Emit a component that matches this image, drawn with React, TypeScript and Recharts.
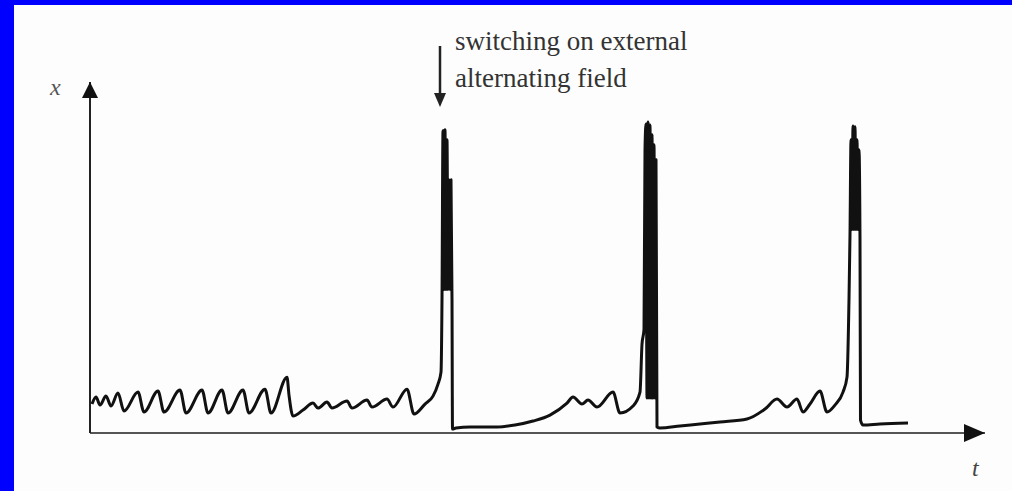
import { LineChart, Line, XAxis, YAxis, ReferenceDot, ReferenceLine } from 'recharts';

// time (arbitrary units) and amplitude x
const wavyT = [0.2, 0.6, 1.0, 1.6, 2.1, 2.8, 3.4, 4.8, 5.4, 6.8, 7.4, 9.0, 9.6, 11.2, 11.8, 13.2, 13.8, 15.3, 15.9, 17.5, 18.1, 19.7, 19.9, 20.3, 21.3, 22.3, 22.8, 23.7, 24.2, 25.7, 26.2, 27.7, 28.2, 29.7, 30.3, 31.7, 32.4, 33.5, 34.3, 34.8, 35.1];
const wavyX = [2.9, 3.6, 2.8, 3.7, 2.7, 4.0, 2.2, 4.1, 2.1, 4.2, 2.1, 4.3, 2.0, 4.3, 2.0, 4.3, 2.0, 4.3, 2.0, 4.4, 2.0, 5.6, 3.8, 1.7, 2.3, 3.0, 2.5, 3.1, 2.5, 3.2, 2.5, 3.3, 2.6, 3.4, 2.6, 4.4, 1.9, 2.9, 3.7, 4.9, 6.1];

const burst1T = [35.2, 35.3, 35.4, 35.5, 35.6, 35.7, 35.8, 35.9, 36.0, 36.1, 36.2, 36.25, 36.6];
const burst1X = [13.4, 30.3, 14.4, 30.4, 14.4, 29.4, 14.4, 25.4, 14.4, 25.4, 13.4, 0.4, 0.5];

const ramp2T = [38.0, 40.7, 42.5, 44.3, 46.0, 47.7, 48.3, 49.2, 49.8, 50.7, 52.3, 53.0, 54.3, 55.0, 55.2, 55.4];
const ramp2X = [0.6, 0.6, 0.8, 1.2, 1.8, 3.0, 3.6, 2.9, 3.3, 2.6, 4.1, 2.0, 2.7, 4.1, 8.9, 10.4];

const burst2T = [55.5, 55.6, 55.7, 55.8, 55.9, 56.0, 56.1, 56.2, 56.3, 56.4, 56.5, 56.6, 56.7, 57.0, 59.0, 61.0];
const burst2X = [28.4, 31.0, 3.5, 31.2, 3.5, 30.9, 3.5, 29.9, 3.5, 28.9, 3.5, 27.4, 0.6, 0.5, 0.7, 0.9];

const ramp3T = [63.0, 65.7, 67.5, 68.7, 69.7, 70.7, 71.3, 72.0, 73.0, 73.7, 74.5, 75.3, 75.7, 75.9, 76.0];
const ramp3X = [1.1, 1.4, 2.4, 3.4, 2.6, 3.4, 2.1, 2.9, 4.2, 2.1, 2.8, 4.1, 5.6, 13.4, 19.9];

const burst3T = [76.1, 76.2, 76.3, 76.4, 76.5, 76.6, 76.7, 76.8, 76.9, 77.0, 77.05, 77.3, 79.0, 81.8];
const burst3X = [29.4, 20.4, 30.8, 20.4, 30.7, 20.4, 29.4, 20.4, 28.4, 19.4, 1.3, 0.8, 0.9, 1.0];

const T_MAX = 89.5;
const X_MAX = 35.2;

const pieces: Array<[number[], number[]]> = [
  [wavyT, wavyX],
  [burst1T, burst1X],
  [ramp2T, ramp2X],
  [burst2T, burst2X],
  [ramp3T, ramp3X],
  [burst3T, burst3X],
];

const data = pieces.flatMap(([ts, xs]) => ts.map((t, i) => ({ t, x: xs[i] })));

const serif = '"Liberation Serif", "DejaVu Serif", serif';

export default function App() {
  return (
    <div style={{ position: 'fixed', left: 0, top: 0, width: 1012, height: 491, background: '#0000ff', overflow: 'hidden' }}>
      <div style={{ position: 'absolute', left: 14, top: 5, right: 0, bottom: 0, background: '#fdfdfd' }} />
      <div style={{ position: 'absolute', left: 0, top: 0 }}>
        <LineChart width={1012} height={491} data={data} margin={{ top: 82, right: 27, bottom: 58, left: 90 }}>
          <XAxis dataKey="t" type="number" domain={[0, T_MAX]} hide />
          <YAxis type="number" domain={[0, X_MAX]} hide />
          <ReferenceLine y={0} stroke="#555" strokeWidth={2} ifOverflow="visible" />
          <ReferenceLine x={0} stroke="#222" strokeWidth={2} ifOverflow="visible" />
          <ReferenceDot
            x={T_MAX}
            y={0}
            r={0}
            ifOverflow="visible"
            shape={(p: any) => <path d={`M${p.cx},${p.cy} l-21,-9 l0,18 z`} fill="#111" />}
          />
          <ReferenceDot
            x={0}
            y={X_MAX}
            r={0}
            ifOverflow="visible"
            shape={(p: any) => <path d={`M${p.cx},${p.cy} l-8,16 l16,0 z`} fill="#111" />}
          />
          <Line
            dataKey="x"
            type="monotone"
            stroke="#111"
            strokeWidth={3}
            strokeLinejoin="round"
            dot={false}
            isAnimationActive={false}
          />
        </LineChart>
      </div>
      <div style={{ position: 'absolute', left: 50, top: 74, fontFamily: serif, fontStyle: 'italic', fontSize: 24, color: '#555' }}>x</div>
      <div style={{ position: 'absolute', left: 972, top: 455, fontFamily: serif, fontStyle: 'italic', fontSize: 24, color: '#444' }}>t</div>
      <svg style={{ position: 'absolute', left: 0, top: 0 }} width={1012} height={491}>
        <line x1={440} y1={46} x2={440} y2={96} stroke="#222" strokeWidth={2.5} />
        <path d="M440,107 l-6,-14 l12,0 z" fill="#222" />
      </svg>
      <div style={{ position: 'absolute', left: 455, top: 23, fontFamily: serif, fontSize: 27, lineHeight: '37px', color: '#333' }}>
        switching on external
        <br />
        alternating field
      </div>
    </div>
  );
}
